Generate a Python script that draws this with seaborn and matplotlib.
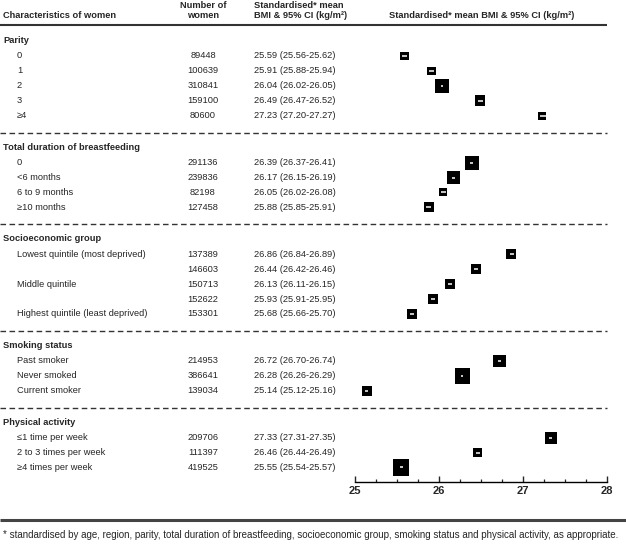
import matplotlib
matplotlib.use("Agg")
import matplotlib.pyplot as plt
import seaborn as sns
import pandas as pd
import numpy as np

group_names = [
    "Parity",
    "Total duration of breastfeeding",
    "Socioeconomic group",
    "Smoking status",
    "Physical activity",
]
row_group = [0] * 5 + [1] * 4 + [2] * 5 + [3] * 3 + [4] * 3
row_labels = [
    "0", "1", "2", "3", "≥4",
    "0", "<6 months", "6 to 9 months", "≥10 months",
    "Lowest quintile (most deprived)", "", "Middle quintile", "",
    "Highest quintile (least deprived)",
    "Past smoker", "Never smoked", "Current smoker",
    "≤1 time per week", "2 to 3 times per week", "≥4 times per week",
]
n_women = [89448, 100639, 310841, 159100, 80600,
           291136, 239836, 82198, 127458,
           137389, 146603, 150713, 152622, 153301,
           214953, 386641, 139034,
           209706, 111397, 419525]
bmi_mean = [25.59, 25.91, 26.04, 26.49, 27.23,
            26.39, 26.17, 26.05, 25.88,
            26.86, 26.44, 26.13, 25.93, 25.68,
            26.72, 26.28, 25.14,
            27.33, 26.46, 25.55]
ci_low = [25.56, 25.88, 26.02, 26.47, 27.20,
          26.37, 26.15, 26.02, 25.85,
          26.84, 26.42, 26.11, 25.91, 25.66,
          26.70, 26.26, 25.12,
          27.31, 26.44, 25.54]
ci_high = [25.62, 25.94, 26.05, 26.52, 27.27,
           26.41, 26.19, 26.08, 25.91,
           26.89, 26.46, 26.15, 25.95, 25.70,
           26.74, 26.29, 25.16,
           27.35, 26.49, 25.57]
x_ticks = [25, 26, 27, 28]

footnote = ("* standardised by age, region, parity, total duration of breastfeeding, "
            "socioeconomic group, smoking status and physical activity, as appropriate.")

sns.set_style("white")
plt.rcParams["font.family"] = ["Liberation Sans", "DejaVu Sans"]

W, H = 626, 544
fig = plt.figure(figsize=(W / 100, H / 100), dpi=100)

# background axes in pixel coordinates for the table text and rules
bg = fig.add_axes([0, 0, 1, 1])
bg.set_xlim(0, W)
bg.set_ylim(H, 0)
bg.axis("off")

line_col = "#333333"
fs = 6.7

# column headers
bg.text(3, 15, "Characteristics of women", fontsize=fs, fontweight="bold", va="center")
bg.text(203, 5, "Number of", fontsize=fs, fontweight="bold", va="center", ha="center")
bg.text(203, 15, "women", fontsize=fs, fontweight="bold", va="center", ha="center")
bg.text(254, 5, "Standardised* mean", fontsize=fs, fontweight="bold", va="center")
bg.text(254, 15, "BMI & 95% CI (kg/m²)", fontsize=fs, fontweight="bold", va="center")
bg.text(482, 15, "Standardised* mean BMI & 95% CI (kg/m²)", fontsize=fs,
        fontweight="bold", va="center", ha="center")
bg.plot([0, 607], [24.5, 24.5], color=line_col, lw=1.5, solid_capstyle="butt")

# compute row positions
row_y = []
header_y = []
y = 40.5
for g in range(len(group_names)):
    header_y.append(y)
    idx = [i for i, rg in enumerate(row_group) if rg == g]
    y += 15.5
    for k, i in enumerate(idx):
        row_y.append(y)
        y += 14.9
    y -= 14.9
    if g < len(group_names) - 1:
        dash_y = y + 17
        bg.plot([0, 607], [dash_y, dash_y], color=line_col, lw=1.0,
                linestyle=(0, (4, 2.5)))
        y = dash_y + 14.5

for g, hy in zip(group_names, header_y):
    bg.text(3, hy, g, fontsize=fs, fontweight="bold", va="center")

for i in range(len(row_labels)):
    ry = row_y[i]
    bg.text(17, ry, row_labels[i], fontsize=fs, va="center")
    bg.text(203, ry, str(n_women[i]), fontsize=fs, va="center", ha="center")
    bg.text(254, ry, f"{bmi_mean[i]:.2f} ({ci_low[i]:.2f}-{ci_high[i]:.2f})",
            fontsize=fs, va="center")

bg.plot([0, W], [519.5, 519.5], color="#444444", lw=2.2, solid_capstyle="butt")
bg.text(3, 535, footnote, fontsize=7.0, va="center")

# forest axes: x in BMI units, y in pixels
axis_y = 481.5
ax = fig.add_axes([355 / W, (H - axis_y) / H, (607 - 355) / W, axis_y / H])
ax.set_xlim(25, 28)
ax.set_ylim(axis_y, 0)
ax.patch.set_alpha(0)

df = pd.DataFrame({"bmi": bmi_mean, "y": row_y, "n": n_women,
                   "lo": ci_low, "hi": ci_high})
sns.scatterplot(data=df, x="bmi", y="y", size="n", sizes=(33, 140),
                size_norm=(80600, 419525), marker="s", color="black",
                linewidth=0, legend=False, ax=ax, zorder=3)
ax.hlines(df["y"], df["lo"], df["hi"], color="white", lw=1.1, zorder=4)

for s in ["top", "right", "left"]:
    ax.spines[s].set_visible(False)
ax.spines["bottom"].set_color("black")
ax.spines["bottom"].set_linewidth(1.0)
ax.set_xticks(x_ticks)
ax.set_xticks(np.arange(25, 28.01, 0.25), minor=True)
ax.tick_params(axis="x", which="major", direction="in", length=4.5, width=1,
               pad=3.5, labelsize=8.0, bottom=True)
ax.tick_params(axis="x", which="minor", direction="in", length=2.5, width=0.9,
               bottom=True)
for lab in ax.get_xticklabels():
    lab.set_fontweight("bold")
ax.set_yticks([])
ax.set_xlabel("")
ax.set_ylabel("")

fig.savefig("out.png", dpi=100)
